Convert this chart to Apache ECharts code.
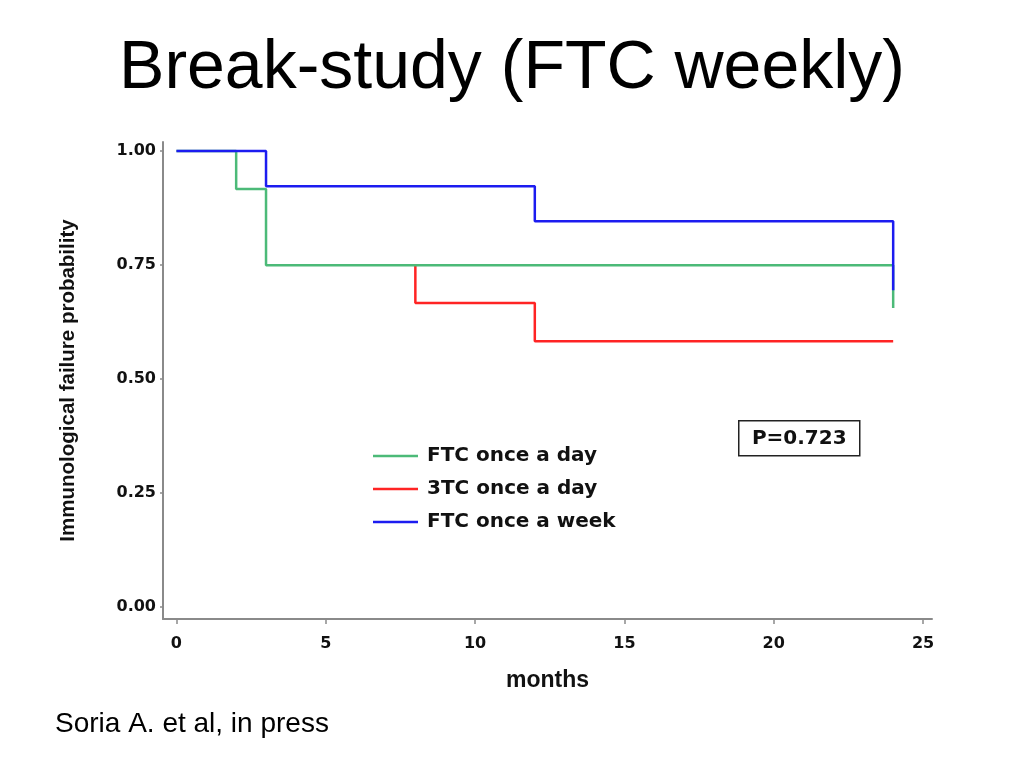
<!DOCTYPE html>
<html>
<head>
<meta charset="utf-8">
<script src="https://cdn.jsdelivr.net/npm/echarts@6/dist/echarts.min.js"></script>
<style>
html,body{margin:0;padding:0;background:#fff;}
#chart{width:1024px;height:768px;}
</style>
</head>
<body>
<div id="chart"></div>
<script>
// Data
const titleText = 'Break-study (FTC weekly)';
const footnote = 'Soria A. et al, in press';
const xTicks = [0, 5, 10, 15, 20, 25];
const yTicks = [0, 0.25, 0.5, 0.75, 1.0];
const seriesNames = ['FTC once a day', '3TC once a day', 'FTC once a week'];
// [month, survival probability] step points
const ftcDaily = [[0, 1.0], [2, 0.917], [3, 0.75], [24, 0.656]];
const tc3Daily = [[8, 0.75], [12, 0.667], [24, 0.583]];
const ftcWeekly = [[0, 1.0], [3, 0.923], [12, 0.846], [24, 0.695]];
const pValue = 'P=0.723';

const chart = echarts.init(document.getElementById('chart'));
const labelFont = 'DejaVu Sans';
chart.setOption({
  backgroundColor: '#fff',
  animation: false,
  title: {
    text: titleText,
    left: 'center',
    top: 30,
    textStyle: { fontFamily: 'Liberation Sans', fontSize: 68, fontWeight: 'normal', color: '#000' }
  },
  grid: { left: 163, right: 92, top: 142, bottom: 149, containLabel: false },
  xAxis: {
    type: 'value',
    min: -0.45,
    max: 25.3,
    name: 'months',
    nameLocation: 'middle',
    nameGap: 50,
    nameTextStyle: { fontFamily: 'Liberation Sans', fontWeight: 'bold', fontSize: 23, color: '#111' },
    axisLine: { onZero: false, lineStyle: { color: '#8a8a8a', width: 2 } },
    axisTick: { customValues: xTicks, length: 5, lineStyle: { color: '#8a8a8a', width: 1.5 } },
    axisLabel: { customValues: xTicks, margin: 17, fontFamily: labelFont, fontWeight: 'bold', fontSize: 16, color: '#111' },
    splitLine: { show: false }
  },
  yAxis: {
    type: 'value',
    min: -0.026,
    max: 1.02,
    name: 'Immunological failure probability',
    nameLocation: 'middle',
    nameRotate: 90,
    nameGap: 84,
    nameTextStyle: { fontFamily: 'Liberation Sans', fontWeight: 'bold', fontSize: 20.5, color: '#111' },
    axisLine: { show: true, onZero: false, lineStyle: { color: '#8a8a8a', width: 2 } },
    axisTick: { show: true, customValues: yTicks, length: 3, lineStyle: { color: '#8a8a8a', width: 1.5 } },
    axisLabel: {
      customValues: yTicks, margin: 7, fontFamily: labelFont, fontWeight: 'bold', fontSize: 16, color: '#111',
      formatter: v => v.toFixed(2)
    },
    splitLine: { show: false }
  },
  legend: {
    orient: 'vertical',
    left: 368,
    top: 441,
    data: seriesNames,
    icon: 'rect',
    itemWidth: 45,
    itemHeight: 2.5,
    itemGap: 13,
    textStyle: { fontFamily: labelFont, fontWeight: 'bold', fontSize: 20, color: '#111', padding: [0, 0, 0, 4] }
  },
  series: [
    { name: seriesNames[1], type: 'line', step: 'start', data: tc3Daily, showSymbol: false, symbol: 'none',
      lineStyle: { color: '#ff2424', width: 2.5 }, itemStyle: { color: '#ff2424' } },
    { name: seriesNames[0], type: 'line', step: 'end', data: ftcDaily, showSymbol: false, symbol: 'none',
      lineStyle: { color: '#4cba78', width: 2.5 }, itemStyle: { color: '#4cba78' } },
    { name: seriesNames[2], type: 'line', step: 'end', data: ftcWeekly, showSymbol: false, symbol: 'none',
      lineStyle: { color: '#1c1cf0', width: 2.5 }, itemStyle: { color: '#1c1cf0' } }
  ],
  graphic: [
    {
      type: 'group', left: 738, top: 420,
      children: [
        { type: 'rect', shape: { x: 0, y: 0, width: 121, height: 35 }, style: { fill: '#fff', stroke: '#222', lineWidth: 1.5 } },
        { type: 'text', x: 60.5, y: 18, style: { text: pValue, fontFamily: labelFont, fontWeight: 'bold', fontSize: 20, fill: '#111', align: 'center', verticalAlign: 'middle' } }
      ]
    },
    {
      type: 'text', left: 55, top: 710,
      style: { text: footnote, fontFamily: 'Liberation Sans', fontSize: 28, fill: '#000' }
    }
  ]
});
</script>
</body>
</html>
